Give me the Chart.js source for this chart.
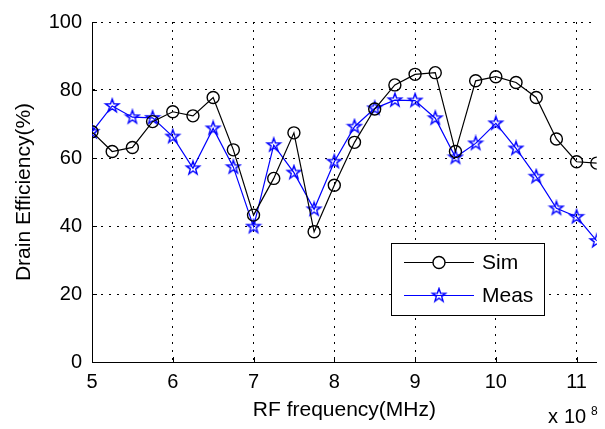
<!DOCTYPE html>
<html>
<head>
<meta charset="utf-8">
<title>Drain Efficiency</title>
<script src="https://cdn.jsdelivr.net/npm/chart.js@4.4.1/dist/chart.umd.min.js"></script>
<style>
  html, body { margin: 0; padding: 0; background: #fff; }
  #wrap { width: 605px; height: 429px; }
</style>
</head>
<body>
<div id="wrap"><canvas id="effChart" width="605" height="429"></canvas></div>
<script>
// frequency in units of 1e8 Hz
const freqs = [5, 5.25, 5.5, 5.75, 6, 6.25, 6.5, 6.75, 7, 7.25, 7.5, 7.75, 8,
  8.25, 8.5, 8.75, 9, 9.25, 9.5, 9.75, 10, 10.25, 10.5, 10.75, 11, 11.25];
const simEff = [67.7, 61.9, 63.1, 70.7, 73.6, 72.4, 77.8, 62.4, 43.2, 54, 67.4, 38.3, 52,
  64.6, 74.4, 81.5, 84.6, 85.1, 61.9, 82.7, 83.9, 82.2, 77.8, 65.6, 58.9, 58.5];
const measEff = [67.7, 75.3, 72, 71.8, 66.3, 57, 68.7, 57.3, 39.8, 63.8, 55.7, 44.9, 58.9,
  69.2, 74.6, 77, 76.9, 71.7, 60.2, 64.3, 70.2, 62.8, 54.5, 45.2, 42.7, 35.6];
const xTicks = [5, 6, 7, 8, 9, 10, 11];
const yTicks = [0, 20, 40, 60, 80, 100];

const FONT = "'Liberation Sans', Arial, Helvetica, sans-serif";

// matlab style pentagram marker (outline only)
function makeStar(color, r) {
  const c = document.createElement("canvas");
  const s = Math.ceil(r * 2 + 4);
  c.width = s;
  c.height = s;
  const g = c.getContext("2d");
  g.strokeStyle = color;
  g.lineWidth = 1.4;
  g.beginPath();
  for (let i = 0; i < 10; i++) {
    const rad = i % 2 === 0 ? r : r * 0.4;
    const a = -Math.PI / 2 + i * Math.PI / 5;
    const px = s / 2 + rad * Math.cos(a);
    const py = s / 2 + rad * Math.sin(a);
    if (i === 0) g.moveTo(px, py);
    else g.lineTo(px, py);
  }
  g.closePath();
  g.stroke();
  return c;
}
const starImg = makeStar("#0000ff", 7);

// small ticks pointing into the plot, like matlab
const innerTicks = {
  id: "innerTicks",
  afterDatasetsDraw(chart) {
    const { ctx, chartArea: a, scales } = chart;
    ctx.save();
    ctx.strokeStyle = "#000";
    ctx.lineWidth = 1;
    ctx.beginPath();
    xTicks.forEach((v) => {
      const px = Math.round(scales.x.getPixelForValue(v)) + 0.5;
      ctx.moveTo(px, a.bottom);
      ctx.lineTo(px, a.bottom - 5);
    });
    yTicks.forEach((v) => {
      const py = Math.round(scales.y.getPixelForValue(v)) + 0.5;
      ctx.moveTo(a.left, py);
      ctx.lineTo(a.left + 5, py);
    });
    ctx.stroke();
    ctx.restore();
  },
};

const legendBox = {
  id: "legendBox",
  afterDraw(chart) {
    const ctx = chart.ctx;
    const sets = chart.data.datasets;
    ctx.save();
    ctx.fillStyle = "#fff";
    ctx.fillRect(391, 243, 153, 72);
    ctx.strokeStyle = "#000";
    ctx.lineWidth = 1;
    ctx.strokeRect(391.5, 243.5, 153, 72);

    const rows = [262, 295];
    ctx.font = "21px " + FONT;
    ctx.textBaseline = "middle";
    ctx.textAlign = "left";
    sets.forEach((ds, i) => {
      const y = rows[i] + 0.5;
      ctx.strokeStyle = ds.borderColor;
      ctx.lineWidth = 1.2;
      ctx.beginPath();
      ctx.moveTo(404, y);
      ctx.lineTo(474, y);
      ctx.stroke();
      if (ds.pointStyle === "circle") {
        ctx.fillStyle = "#fff";
        ctx.lineWidth = 1.4;
        ctx.beginPath();
        ctx.arc(439, y, ds.pointRadius, 0, Math.PI * 2);
        ctx.fill();
        ctx.stroke();
      } else {
        ctx.drawImage(starImg, 439 - starImg.width / 2, y - starImg.height / 2);
      }
      ctx.fillStyle = "#000";
      ctx.fillText(ds.label, 482, rows[i] + 1);
    });

    // axis multiplier
    ctx.textBaseline = "alphabetic";
    ctx.font = "20px " + FONT;
    ctx.fillText("x", 548, 423);
    ctx.fillText("10", 564, 423);
    ctx.font = "12px " + FONT;
    ctx.fillText("8", 591, 415);
    ctx.restore();
  },
};

new Chart(document.getElementById("effChart"), {
  type: "line",
  data: {
    datasets: [
      {
        label: "Sim",
        data: freqs.map((f, i) => ({ x: f, y: simEff[i] })),
        borderColor: "#000",
        borderWidth: 1.2,
        pointStyle: "circle",
        pointRadius: 6,
        pointBorderWidth: 1.4,
        pointBorderColor: "#000",
        pointBackgroundColor: "rgba(0,0,0,0)",
        tension: 0,
      },
      {
        label: "Meas",
        data: freqs.map((f, i) => ({ x: f, y: measEff[i] })),
        borderColor: "#0000ff",
        borderWidth: 1.2,
        pointStyle: starImg,
        pointRadius: 7,
        tension: 0,
      },
    ],
  },
  options: {
    responsive: false,
    animation: false,
    devicePixelRatio: 1,
    layout: { padding: { top: 22, right: 7, left: 0, bottom: 0 } },
    plugins: { legend: { display: false }, tooltip: { enabled: false } },
    scales: {
      x: {
        type: "linear",
        min: 5,
        max: 11.25,
        afterBuildTicks: (scale) => {
          scale.ticks = xTicks.map((v) => ({ value: v }));
        },
        afterFit: (scale) => {
          scale.height = 67;
        },
        ticks: {
          padding: 8,
          color: "#000",
          font: { family: FONT, size: 20 },
          maxRotation: 0,
          callback: (v) => String(v),
        },
        grid: { color: "#000", lineWidth: 1, drawTicks: false },
        border: { display: true, color: "#000", width: 1, dash: [2, 6] },
        title: {
          display: true,
          text: "RF frequency(MHz)",
          color: "#000",
          font: { family: FONT, size: 21 },
          padding: { top: 0, bottom: 6 },
        },
      },
      y: {
        min: 0,
        max: 100,
        afterBuildTicks: (scale) => {
          scale.ticks = yTicks.map((v) => ({ value: v }));
        },
        afterFit: (scale) => {
          scale.width = 92;
        },
        ticks: {
          padding: 10,
          color: "#000",
          font: { family: FONT, size: 20 },
        },
        grid: { color: "#000", lineWidth: 1, drawTicks: false },
        border: { display: true, color: "#000", width: 1, dash: [2, 6] },
        title: {
          display: true,
          text: "Drain Efficiency(%)",
          color: "#000",
          font: { family: FONT, size: 21 },
          padding: { top: 12, bottom: 0 },
        },
      },
    },
  },
  plugins: [innerTicks, legendBox],
});
</script>
</body>
</html>
